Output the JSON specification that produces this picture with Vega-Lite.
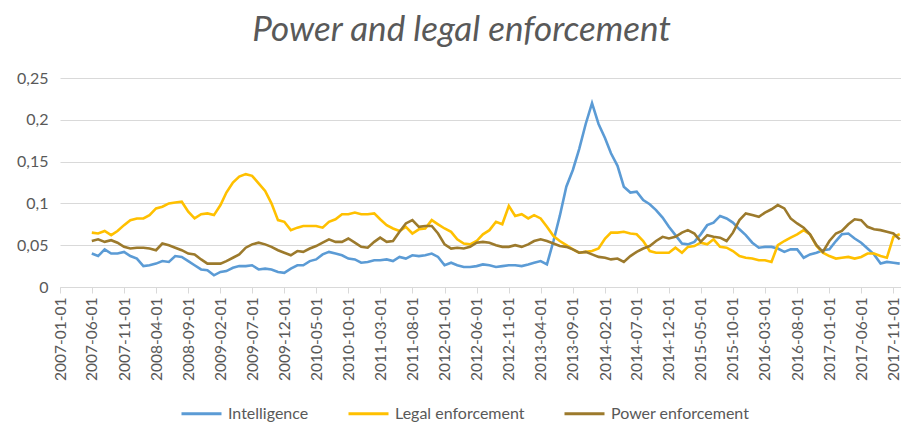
{
"$schema": "https://vega.github.io/schema/vega-lite/v6.json",
"width": 841, "height": 209,
"autosize": {"type": "none"},
"padding": {"left": 60, "top": 78, "right": 0, "bottom": 137},
"background": "white",
"title": {"text": "Power and legal enforcement", "font": "Lato", "fontSize": 35, "fontStyle": "italic", "fontWeight": "normal", "color": "#595959", "anchor": "middle", "frame": "group", "dx": -19, "dy": 40, "offset": 34, "baseline": "alphabetic"},
"config": {"view": {"stroke": null}, "font": "Lato"},
"datasets": {
"raw": [
{"date":"2007-06-01","series":"Intelligence","value":0.040},{"date":"2007-07-01","series":"Intelligence","value":0.037},{"date":"2007-08-01","series":"Intelligence","value":0.045},{"date":"2007-09-01","series":"Intelligence","value":0.040},{"date":"2007-10-01","series":"Intelligence","value":0.040},{"date":"2007-11-01","series":"Intelligence","value":0.042},{"date":"2007-12-01","series":"Intelligence","value":0.037},
{"date":"2008-01-01","series":"Intelligence","value":0.034},{"date":"2008-02-01","series":"Intelligence","value":0.025},{"date":"2008-03-01","series":"Intelligence","value":0.026},{"date":"2008-04-01","series":"Intelligence","value":0.028},{"date":"2008-05-01","series":"Intelligence","value":0.031},{"date":"2008-06-01","series":"Intelligence","value":0.030},{"date":"2008-07-01","series":"Intelligence","value":0.037},{"date":"2008-08-01","series":"Intelligence","value":0.036},{"date":"2008-09-01","series":"Intelligence","value":0.031},{"date":"2008-10-01","series":"Intelligence","value":0.026},{"date":"2008-11-01","series":"Intelligence","value":0.021},{"date":"2008-12-01","series":"Intelligence","value":0.020},
{"date":"2009-01-01","series":"Intelligence","value":0.014},{"date":"2009-02-01","series":"Intelligence","value":0.018},{"date":"2009-03-01","series":"Intelligence","value":0.019},{"date":"2009-04-01","series":"Intelligence","value":0.023},{"date":"2009-05-01","series":"Intelligence","value":0.025},{"date":"2009-06-01","series":"Intelligence","value":0.025},{"date":"2009-07-01","series":"Intelligence","value":0.026},{"date":"2009-08-01","series":"Intelligence","value":0.021},{"date":"2009-09-01","series":"Intelligence","value":0.022},{"date":"2009-10-01","series":"Intelligence","value":0.021},{"date":"2009-11-01","series":"Intelligence","value":0.018},{"date":"2009-12-01","series":"Intelligence","value":0.017},
{"date":"2010-01-01","series":"Intelligence","value":0.022},{"date":"2010-02-01","series":"Intelligence","value":0.026},{"date":"2010-03-01","series":"Intelligence","value":0.026},{"date":"2010-04-01","series":"Intelligence","value":0.031},{"date":"2010-05-01","series":"Intelligence","value":0.033},{"date":"2010-06-01","series":"Intelligence","value":0.039},{"date":"2010-07-01","series":"Intelligence","value":0.042},{"date":"2010-08-01","series":"Intelligence","value":0.040},{"date":"2010-09-01","series":"Intelligence","value":0.038},{"date":"2010-10-01","series":"Intelligence","value":0.034},{"date":"2010-11-01","series":"Intelligence","value":0.033},{"date":"2010-12-01","series":"Intelligence","value":0.029},
{"date":"2011-01-01","series":"Intelligence","value":0.030},{"date":"2011-02-01","series":"Intelligence","value":0.032},{"date":"2011-03-01","series":"Intelligence","value":0.032},{"date":"2011-04-01","series":"Intelligence","value":0.033},{"date":"2011-05-01","series":"Intelligence","value":0.031},{"date":"2011-06-01","series":"Intelligence","value":0.036},{"date":"2011-07-01","series":"Intelligence","value":0.034},{"date":"2011-08-01","series":"Intelligence","value":0.038},{"date":"2011-09-01","series":"Intelligence","value":0.037},{"date":"2011-10-01","series":"Intelligence","value":0.038},{"date":"2011-11-01","series":"Intelligence","value":0.040},{"date":"2011-12-01","series":"Intelligence","value":0.036},
{"date":"2012-01-01","series":"Intelligence","value":0.026},{"date":"2012-02-01","series":"Intelligence","value":0.029},{"date":"2012-03-01","series":"Intelligence","value":0.026},{"date":"2012-04-01","series":"Intelligence","value":0.024},{"date":"2012-05-01","series":"Intelligence","value":0.024},{"date":"2012-06-01","series":"Intelligence","value":0.025},{"date":"2012-07-01","series":"Intelligence","value":0.027},{"date":"2012-08-01","series":"Intelligence","value":0.026},{"date":"2012-09-01","series":"Intelligence","value":0.024},{"date":"2012-10-01","series":"Intelligence","value":0.025},{"date":"2012-11-01","series":"Intelligence","value":0.026},{"date":"2012-12-01","series":"Intelligence","value":0.026},
{"date":"2013-01-01","series":"Intelligence","value":0.025},{"date":"2013-02-01","series":"Intelligence","value":0.027},{"date":"2013-03-01","series":"Intelligence","value":0.029},{"date":"2013-04-01","series":"Intelligence","value":0.031},{"date":"2013-05-01","series":"Intelligence","value":0.027},{"date":"2013-06-01","series":"Intelligence","value":0.055},{"date":"2013-07-01","series":"Intelligence","value":0.085},{"date":"2013-08-01","series":"Intelligence","value":0.120},{"date":"2013-09-01","series":"Intelligence","value":0.140},{"date":"2013-10-01","series":"Intelligence","value":0.165},{"date":"2013-11-01","series":"Intelligence","value":0.195},{"date":"2013-12-01","series":"Intelligence","value":0.220},
{"date":"2014-01-01","series":"Intelligence","value":0.195},{"date":"2014-02-01","series":"Intelligence","value":0.178},{"date":"2014-03-01","series":"Intelligence","value":0.160},{"date":"2014-04-01","series":"Intelligence","value":0.145},{"date":"2014-05-01","series":"Intelligence","value":0.120},{"date":"2014-06-01","series":"Intelligence","value":0.113},{"date":"2014-07-01","series":"Intelligence","value":0.114},{"date":"2014-08-01","series":"Intelligence","value":0.104},{"date":"2014-09-01","series":"Intelligence","value":0.099},{"date":"2014-10-01","series":"Intelligence","value":0.092},{"date":"2014-11-01","series":"Intelligence","value":0.083},{"date":"2014-12-01","series":"Intelligence","value":0.072},
{"date":"2015-01-01","series":"Intelligence","value":0.062},{"date":"2015-02-01","series":"Intelligence","value":0.052},{"date":"2015-03-01","series":"Intelligence","value":0.051},{"date":"2015-04-01","series":"Intelligence","value":0.054},{"date":"2015-05-01","series":"Intelligence","value":0.063},{"date":"2015-06-01","series":"Intelligence","value":0.074},{"date":"2015-07-01","series":"Intelligence","value":0.077},{"date":"2015-08-01","series":"Intelligence","value":0.085},{"date":"2015-09-01","series":"Intelligence","value":0.082},{"date":"2015-10-01","series":"Intelligence","value":0.077},{"date":"2015-11-01","series":"Intelligence","value":0.069},{"date":"2015-12-01","series":"Intelligence","value":0.062},
{"date":"2016-01-01","series":"Intelligence","value":0.053},{"date":"2016-02-01","series":"Intelligence","value":0.047},{"date":"2016-03-01","series":"Intelligence","value":0.048},{"date":"2016-04-01","series":"Intelligence","value":0.048},{"date":"2016-05-01","series":"Intelligence","value":0.046},{"date":"2016-06-01","series":"Intelligence","value":0.042},{"date":"2016-07-01","series":"Intelligence","value":0.045},{"date":"2016-08-01","series":"Intelligence","value":0.045},{"date":"2016-09-01","series":"Intelligence","value":0.035},{"date":"2016-10-01","series":"Intelligence","value":0.039},{"date":"2016-11-01","series":"Intelligence","value":0.041},{"date":"2016-12-01","series":"Intelligence","value":0.044},
{"date":"2017-01-01","series":"Intelligence","value":0.045},{"date":"2017-02-01","series":"Intelligence","value":0.055},{"date":"2017-03-01","series":"Intelligence","value":0.063},{"date":"2017-04-01","series":"Intelligence","value":0.064},{"date":"2017-05-01","series":"Intelligence","value":0.058},{"date":"2017-06-01","series":"Intelligence","value":0.053},{"date":"2017-07-01","series":"Intelligence","value":0.046},{"date":"2017-08-01","series":"Intelligence","value":0.039},{"date":"2017-09-01","series":"Intelligence","value":0.028},{"date":"2017-10-01","series":"Intelligence","value":0.030},{"date":"2017-11-01","series":"Intelligence","value":0.029},{"date":"2017-12-01","series":"Intelligence","value":0.028},

{"date":"2007-06-01","series":"Legal enforcement","value":0.065},{"date":"2007-07-01","series":"Legal enforcement","value":0.064},{"date":"2007-08-01","series":"Legal enforcement","value":0.067},{"date":"2007-09-01","series":"Legal enforcement","value":0.062},{"date":"2007-10-01","series":"Legal enforcement","value":0.067},{"date":"2007-11-01","series":"Legal enforcement","value":0.074},{"date":"2007-12-01","series":"Legal enforcement","value":0.080},
{"date":"2008-01-01","series":"Legal enforcement","value":0.082},{"date":"2008-02-01","series":"Legal enforcement","value":0.082},{"date":"2008-03-01","series":"Legal enforcement","value":0.086},{"date":"2008-04-01","series":"Legal enforcement","value":0.094},{"date":"2008-05-01","series":"Legal enforcement","value":0.096},{"date":"2008-06-01","series":"Legal enforcement","value":0.100},{"date":"2008-07-01","series":"Legal enforcement","value":0.101},{"date":"2008-08-01","series":"Legal enforcement","value":0.102},{"date":"2008-09-01","series":"Legal enforcement","value":0.090},{"date":"2008-10-01","series":"Legal enforcement","value":0.082},{"date":"2008-11-01","series":"Legal enforcement","value":0.087},{"date":"2008-12-01","series":"Legal enforcement","value":0.088},
{"date":"2009-01-01","series":"Legal enforcement","value":0.086},{"date":"2009-02-01","series":"Legal enforcement","value":0.098},{"date":"2009-03-01","series":"Legal enforcement","value":0.113},{"date":"2009-04-01","series":"Legal enforcement","value":0.125},{"date":"2009-05-01","series":"Legal enforcement","value":0.132},{"date":"2009-06-01","series":"Legal enforcement","value":0.135},{"date":"2009-07-01","series":"Legal enforcement","value":0.133},{"date":"2009-08-01","series":"Legal enforcement","value":0.124},{"date":"2009-09-01","series":"Legal enforcement","value":0.115},{"date":"2009-10-01","series":"Legal enforcement","value":0.100},{"date":"2009-11-01","series":"Legal enforcement","value":0.080},{"date":"2009-12-01","series":"Legal enforcement","value":0.078},
{"date":"2010-01-01","series":"Legal enforcement","value":0.068},{"date":"2010-02-01","series":"Legal enforcement","value":0.071},{"date":"2010-03-01","series":"Legal enforcement","value":0.073},{"date":"2010-04-01","series":"Legal enforcement","value":0.073},{"date":"2010-05-01","series":"Legal enforcement","value":0.073},{"date":"2010-06-01","series":"Legal enforcement","value":0.071},{"date":"2010-07-01","series":"Legal enforcement","value":0.078},{"date":"2010-08-01","series":"Legal enforcement","value":0.081},{"date":"2010-09-01","series":"Legal enforcement","value":0.087},{"date":"2010-10-01","series":"Legal enforcement","value":0.087},{"date":"2010-11-01","series":"Legal enforcement","value":0.089},{"date":"2010-12-01","series":"Legal enforcement","value":0.087},
{"date":"2011-01-01","series":"Legal enforcement","value":0.087},{"date":"2011-02-01","series":"Legal enforcement","value":0.088},{"date":"2011-03-01","series":"Legal enforcement","value":0.081},{"date":"2011-04-01","series":"Legal enforcement","value":0.074},{"date":"2011-05-01","series":"Legal enforcement","value":0.070},{"date":"2011-06-01","series":"Legal enforcement","value":0.067},{"date":"2011-07-01","series":"Legal enforcement","value":0.072},{"date":"2011-08-01","series":"Legal enforcement","value":0.064},{"date":"2011-09-01","series":"Legal enforcement","value":0.069},{"date":"2011-10-01","series":"Legal enforcement","value":0.070},{"date":"2011-11-01","series":"Legal enforcement","value":0.080},{"date":"2011-12-01","series":"Legal enforcement","value":0.075},
{"date":"2012-01-01","series":"Legal enforcement","value":0.070},{"date":"2012-02-01","series":"Legal enforcement","value":0.066},{"date":"2012-03-01","series":"Legal enforcement","value":0.057},{"date":"2012-04-01","series":"Legal enforcement","value":0.052},{"date":"2012-05-01","series":"Legal enforcement","value":0.051},{"date":"2012-06-01","series":"Legal enforcement","value":0.055},{"date":"2012-07-01","series":"Legal enforcement","value":0.063},{"date":"2012-08-01","series":"Legal enforcement","value":0.068},{"date":"2012-09-01","series":"Legal enforcement","value":0.078},{"date":"2012-10-01","series":"Legal enforcement","value":0.075},{"date":"2012-11-01","series":"Legal enforcement","value":0.097},{"date":"2012-12-01","series":"Legal enforcement","value":0.085},
{"date":"2013-01-01","series":"Legal enforcement","value":0.087},{"date":"2013-02-01","series":"Legal enforcement","value":0.082},{"date":"2013-03-01","series":"Legal enforcement","value":0.086},{"date":"2013-04-01","series":"Legal enforcement","value":0.082},{"date":"2013-05-01","series":"Legal enforcement","value":0.072},{"date":"2013-06-01","series":"Legal enforcement","value":0.061},{"date":"2013-07-01","series":"Legal enforcement","value":0.055},{"date":"2013-08-01","series":"Legal enforcement","value":0.050},{"date":"2013-09-01","series":"Legal enforcement","value":0.045},{"date":"2013-10-01","series":"Legal enforcement","value":0.041},{"date":"2013-11-01","series":"Legal enforcement","value":0.042},{"date":"2013-12-01","series":"Legal enforcement","value":0.043},
{"date":"2014-01-01","series":"Legal enforcement","value":0.046},{"date":"2014-02-01","series":"Legal enforcement","value":0.058},{"date":"2014-03-01","series":"Legal enforcement","value":0.065},{"date":"2014-04-01","series":"Legal enforcement","value":0.065},{"date":"2014-05-01","series":"Legal enforcement","value":0.066},{"date":"2014-06-01","series":"Legal enforcement","value":0.064},{"date":"2014-07-01","series":"Legal enforcement","value":0.063},{"date":"2014-08-01","series":"Legal enforcement","value":0.055},{"date":"2014-09-01","series":"Legal enforcement","value":0.043},{"date":"2014-10-01","series":"Legal enforcement","value":0.041},{"date":"2014-11-01","series":"Legal enforcement","value":0.041},{"date":"2014-12-01","series":"Legal enforcement","value":0.041},
{"date":"2015-01-01","series":"Legal enforcement","value":0.047},{"date":"2015-02-01","series":"Legal enforcement","value":0.041},{"date":"2015-03-01","series":"Legal enforcement","value":0.048},{"date":"2015-04-01","series":"Legal enforcement","value":0.049},{"date":"2015-05-01","series":"Legal enforcement","value":0.053},{"date":"2015-06-01","series":"Legal enforcement","value":0.051},{"date":"2015-07-01","series":"Legal enforcement","value":0.057},{"date":"2015-08-01","series":"Legal enforcement","value":0.048},{"date":"2015-09-01","series":"Legal enforcement","value":0.047},{"date":"2015-10-01","series":"Legal enforcement","value":0.043},{"date":"2015-11-01","series":"Legal enforcement","value":0.037},{"date":"2015-12-01","series":"Legal enforcement","value":0.035},
{"date":"2016-01-01","series":"Legal enforcement","value":0.034},{"date":"2016-02-01","series":"Legal enforcement","value":0.032},{"date":"2016-03-01","series":"Legal enforcement","value":0.032},{"date":"2016-04-01","series":"Legal enforcement","value":0.030},{"date":"2016-05-01","series":"Legal enforcement","value":0.050},{"date":"2016-06-01","series":"Legal enforcement","value":0.055},{"date":"2016-07-01","series":"Legal enforcement","value":0.059},{"date":"2016-08-01","series":"Legal enforcement","value":0.063},{"date":"2016-09-01","series":"Legal enforcement","value":0.068},{"date":"2016-10-01","series":"Legal enforcement","value":0.063},{"date":"2016-11-01","series":"Legal enforcement","value":0.049},{"date":"2016-12-01","series":"Legal enforcement","value":0.041},
{"date":"2017-01-01","series":"Legal enforcement","value":0.037},{"date":"2017-02-01","series":"Legal enforcement","value":0.034},{"date":"2017-03-01","series":"Legal enforcement","value":0.035},{"date":"2017-04-01","series":"Legal enforcement","value":0.036},{"date":"2017-05-01","series":"Legal enforcement","value":0.034},{"date":"2017-06-01","series":"Legal enforcement","value":0.036},{"date":"2017-07-01","series":"Legal enforcement","value":0.040},{"date":"2017-08-01","series":"Legal enforcement","value":0.040},{"date":"2017-09-01","series":"Legal enforcement","value":0.037},{"date":"2017-10-01","series":"Legal enforcement","value":0.035},{"date":"2017-11-01","series":"Legal enforcement","value":0.060},{"date":"2017-12-01","series":"Legal enforcement","value":0.063},

{"date":"2007-06-01","series":"Power enforcement","value":0.055},{"date":"2007-07-01","series":"Power enforcement","value":0.057},{"date":"2007-08-01","series":"Power enforcement","value":0.054},{"date":"2007-09-01","series":"Power enforcement","value":0.056},{"date":"2007-10-01","series":"Power enforcement","value":0.053},{"date":"2007-11-01","series":"Power enforcement","value":0.048},{"date":"2007-12-01","series":"Power enforcement","value":0.046},
{"date":"2008-01-01","series":"Power enforcement","value":0.047},{"date":"2008-02-01","series":"Power enforcement","value":0.047},{"date":"2008-03-01","series":"Power enforcement","value":0.046},{"date":"2008-04-01","series":"Power enforcement","value":0.044},{"date":"2008-05-01","series":"Power enforcement","value":0.052},{"date":"2008-06-01","series":"Power enforcement","value":0.050},{"date":"2008-07-01","series":"Power enforcement","value":0.047},{"date":"2008-08-01","series":"Power enforcement","value":0.044},{"date":"2008-09-01","series":"Power enforcement","value":0.040},{"date":"2008-10-01","series":"Power enforcement","value":0.039},{"date":"2008-11-01","series":"Power enforcement","value":0.033},{"date":"2008-12-01","series":"Power enforcement","value":0.028},
{"date":"2009-01-01","series":"Power enforcement","value":0.028},{"date":"2009-02-01","series":"Power enforcement","value":0.028},{"date":"2009-03-01","series":"Power enforcement","value":0.031},{"date":"2009-04-01","series":"Power enforcement","value":0.035},{"date":"2009-05-01","series":"Power enforcement","value":0.039},{"date":"2009-06-01","series":"Power enforcement","value":0.047},{"date":"2009-07-01","series":"Power enforcement","value":0.051},{"date":"2009-08-01","series":"Power enforcement","value":0.053},{"date":"2009-09-01","series":"Power enforcement","value":0.051},{"date":"2009-10-01","series":"Power enforcement","value":0.048},{"date":"2009-11-01","series":"Power enforcement","value":0.044},{"date":"2009-12-01","series":"Power enforcement","value":0.041},
{"date":"2010-01-01","series":"Power enforcement","value":0.038},{"date":"2010-02-01","series":"Power enforcement","value":0.043},{"date":"2010-03-01","series":"Power enforcement","value":0.042},{"date":"2010-04-01","series":"Power enforcement","value":0.046},{"date":"2010-05-01","series":"Power enforcement","value":0.049},{"date":"2010-06-01","series":"Power enforcement","value":0.053},{"date":"2010-07-01","series":"Power enforcement","value":0.057},{"date":"2010-08-01","series":"Power enforcement","value":0.054},{"date":"2010-09-01","series":"Power enforcement","value":0.054},{"date":"2010-10-01","series":"Power enforcement","value":0.058},{"date":"2010-11-01","series":"Power enforcement","value":0.053},{"date":"2010-12-01","series":"Power enforcement","value":0.048},
{"date":"2011-01-01","series":"Power enforcement","value":0.047},{"date":"2011-02-01","series":"Power enforcement","value":0.054},{"date":"2011-03-01","series":"Power enforcement","value":0.059},{"date":"2011-04-01","series":"Power enforcement","value":0.054},{"date":"2011-05-01","series":"Power enforcement","value":0.055},{"date":"2011-06-01","series":"Power enforcement","value":0.066},{"date":"2011-07-01","series":"Power enforcement","value":0.076},{"date":"2011-08-01","series":"Power enforcement","value":0.080},{"date":"2011-09-01","series":"Power enforcement","value":0.072},{"date":"2011-10-01","series":"Power enforcement","value":0.073},{"date":"2011-11-01","series":"Power enforcement","value":0.073},{"date":"2011-12-01","series":"Power enforcement","value":0.064},
{"date":"2012-01-01","series":"Power enforcement","value":0.051},{"date":"2012-02-01","series":"Power enforcement","value":0.046},{"date":"2012-03-01","series":"Power enforcement","value":0.047},{"date":"2012-04-01","series":"Power enforcement","value":0.046},{"date":"2012-05-01","series":"Power enforcement","value":0.048},{"date":"2012-06-01","series":"Power enforcement","value":0.053},{"date":"2012-07-01","series":"Power enforcement","value":0.054},{"date":"2012-08-01","series":"Power enforcement","value":0.053},{"date":"2012-09-01","series":"Power enforcement","value":0.050},{"date":"2012-10-01","series":"Power enforcement","value":0.048},{"date":"2012-11-01","series":"Power enforcement","value":0.048},{"date":"2012-12-01","series":"Power enforcement","value":0.050},
{"date":"2013-01-01","series":"Power enforcement","value":0.048},{"date":"2013-02-01","series":"Power enforcement","value":0.051},{"date":"2013-03-01","series":"Power enforcement","value":0.055},{"date":"2013-04-01","series":"Power enforcement","value":0.057},{"date":"2013-05-01","series":"Power enforcement","value":0.055},{"date":"2013-06-01","series":"Power enforcement","value":0.052},{"date":"2013-07-01","series":"Power enforcement","value":0.049},{"date":"2013-08-01","series":"Power enforcement","value":0.048},{"date":"2013-09-01","series":"Power enforcement","value":0.045},{"date":"2013-10-01","series":"Power enforcement","value":0.041},{"date":"2013-11-01","series":"Power enforcement","value":0.042},{"date":"2013-12-01","series":"Power enforcement","value":0.039},
{"date":"2014-01-01","series":"Power enforcement","value":0.036},{"date":"2014-02-01","series":"Power enforcement","value":0.035},{"date":"2014-03-01","series":"Power enforcement","value":0.033},{"date":"2014-04-01","series":"Power enforcement","value":0.034},{"date":"2014-05-01","series":"Power enforcement","value":0.030},{"date":"2014-06-01","series":"Power enforcement","value":0.037},{"date":"2014-07-01","series":"Power enforcement","value":0.042},{"date":"2014-08-01","series":"Power enforcement","value":0.046},{"date":"2014-09-01","series":"Power enforcement","value":0.049},{"date":"2014-10-01","series":"Power enforcement","value":0.055},{"date":"2014-11-01","series":"Power enforcement","value":0.060},{"date":"2014-12-01","series":"Power enforcement","value":0.058},
{"date":"2015-01-01","series":"Power enforcement","value":0.060},{"date":"2015-02-01","series":"Power enforcement","value":0.065},{"date":"2015-03-01","series":"Power enforcement","value":0.068},{"date":"2015-04-01","series":"Power enforcement","value":0.064},{"date":"2015-05-01","series":"Power enforcement","value":0.054},{"date":"2015-06-01","series":"Power enforcement","value":0.062},{"date":"2015-07-01","series":"Power enforcement","value":0.060},{"date":"2015-08-01","series":"Power enforcement","value":0.059},{"date":"2015-09-01","series":"Power enforcement","value":0.055},{"date":"2015-10-01","series":"Power enforcement","value":0.065},{"date":"2015-11-01","series":"Power enforcement","value":0.080},{"date":"2015-12-01","series":"Power enforcement","value":0.088},
{"date":"2016-01-01","series":"Power enforcement","value":0.086},{"date":"2016-02-01","series":"Power enforcement","value":0.084},{"date":"2016-03-01","series":"Power enforcement","value":0.089},{"date":"2016-04-01","series":"Power enforcement","value":0.093},{"date":"2016-05-01","series":"Power enforcement","value":0.098},{"date":"2016-06-01","series":"Power enforcement","value":0.094},{"date":"2016-07-01","series":"Power enforcement","value":0.082},{"date":"2016-08-01","series":"Power enforcement","value":0.076},{"date":"2016-09-01","series":"Power enforcement","value":0.071},{"date":"2016-10-01","series":"Power enforcement","value":0.063},{"date":"2016-11-01","series":"Power enforcement","value":0.050},{"date":"2016-12-01","series":"Power enforcement","value":0.042},
{"date":"2017-01-01","series":"Power enforcement","value":0.055},{"date":"2017-02-01","series":"Power enforcement","value":0.064},{"date":"2017-03-01","series":"Power enforcement","value":0.067},{"date":"2017-04-01","series":"Power enforcement","value":0.075},{"date":"2017-05-01","series":"Power enforcement","value":0.081},{"date":"2017-06-01","series":"Power enforcement","value":0.080},{"date":"2017-07-01","series":"Power enforcement","value":0.072},{"date":"2017-08-01","series":"Power enforcement","value":0.069},{"date":"2017-09-01","series":"Power enforcement","value":0.068},{"date":"2017-10-01","series":"Power enforcement","value":0.066},{"date":"2017-11-01","series":"Power enforcement","value":0.064},{"date":"2017-12-01","series":"Power enforcement","value":0.057}
]
},
"data": {"name": "raw"},
"mark": {"type": "line", "strokeWidth": 2.6, "clip": true},
"encoding": {
"x": {"field": "date", "type": "temporal",
 "scale": {"type": "utc", "domain": [{"year": 2007, "month": 1, "date": 1, "utc": true}, {"year": 2017, "month": 12, "date": 7, "utc": true}]},
 "axis": {"title": null, "grid": false, "labelExpr": "utcFormat(datum.value, '%Y-%m-%d')", "labelAngle": -90, "labelFont": "Lato", "labelFontSize": 15.5, "labelColor": "#595959", "labelPadding": 4, "labelOverlap": false, "labelFlush": false, "labelBound": false, "domainColor": "#D9D9D9", "tickColor": "#D9D9D9", "tickSize": 6,
  "values": [
   {"year": 2007, "month": 1, "date": 1, "utc": true}, {"year": 2007, "month": 6, "date": 1, "utc": true}, {"year": 2007, "month": 11, "date": 1, "utc": true},
   {"year": 2008, "month": 4, "date": 1, "utc": true}, {"year": 2008, "month": 9, "date": 1, "utc": true}, {"year": 2009, "month": 2, "date": 1, "utc": true},
   {"year": 2009, "month": 7, "date": 1, "utc": true}, {"year": 2009, "month": 12, "date": 1, "utc": true}, {"year": 2010, "month": 5, "date": 1, "utc": true},
   {"year": 2010, "month": 10, "date": 1, "utc": true}, {"year": 2011, "month": 3, "date": 1, "utc": true}, {"year": 2011, "month": 8, "date": 1, "utc": true},
   {"year": 2012, "month": 1, "date": 1, "utc": true}, {"year": 2012, "month": 6, "date": 1, "utc": true}, {"year": 2012, "month": 11, "date": 1, "utc": true},
   {"year": 2013, "month": 4, "date": 1, "utc": true}, {"year": 2013, "month": 9, "date": 1, "utc": true}, {"year": 2014, "month": 2, "date": 1, "utc": true},
   {"year": 2014, "month": 7, "date": 1, "utc": true}, {"year": 2014, "month": 12, "date": 1, "utc": true}, {"year": 2015, "month": 5, "date": 1, "utc": true},
   {"year": 2015, "month": 10, "date": 1, "utc": true}, {"year": 2016, "month": 3, "date": 1, "utc": true}, {"year": 2016, "month": 8, "date": 1, "utc": true},
   {"year": 2017, "month": 1, "date": 1, "utc": true}, {"year": 2017, "month": 6, "date": 1, "utc": true}, {"year": 2017, "month": 11, "date": 1, "utc": true}
  ]}},
"y": {"field": "value", "type": "quantitative",
 "scale": {"domain": [0, 0.25], "nice": false},
 "axis": {"title": null, "values": [0, 0.05, 0.1, 0.15, 0.2, 0.25], "labelExpr": "replace(format(datum.value, '.2~f'), '.', ',')", "labelFont": "Lato", "labelFontSize": 16, "labelColor": "#595959", "ticks": false, "domain": false, "gridColor": "#D9D9D9", "gridWidth": 1, "labelPadding": 12}},
"color": {"field": "series", "type": "nominal",
 "scale": {"domain": ["Intelligence", "Legal enforcement", "Power enforcement"], "range": ["#5B9BD5", "#FFC000", "#9C7A2C"]},
 "legend": {"orient": "none", "legendX": 120, "legendY": 314, "direction": "horizontal", "title": null, "symbolType": "stroke", "symbolSize": 1600, "symbolStrokeWidth": 3, "labelFont": "Lato", "labelFontSize": 16, "labelColor": "#595959", "columnPadding": 33, "labelOffset": 5}}
}
}
